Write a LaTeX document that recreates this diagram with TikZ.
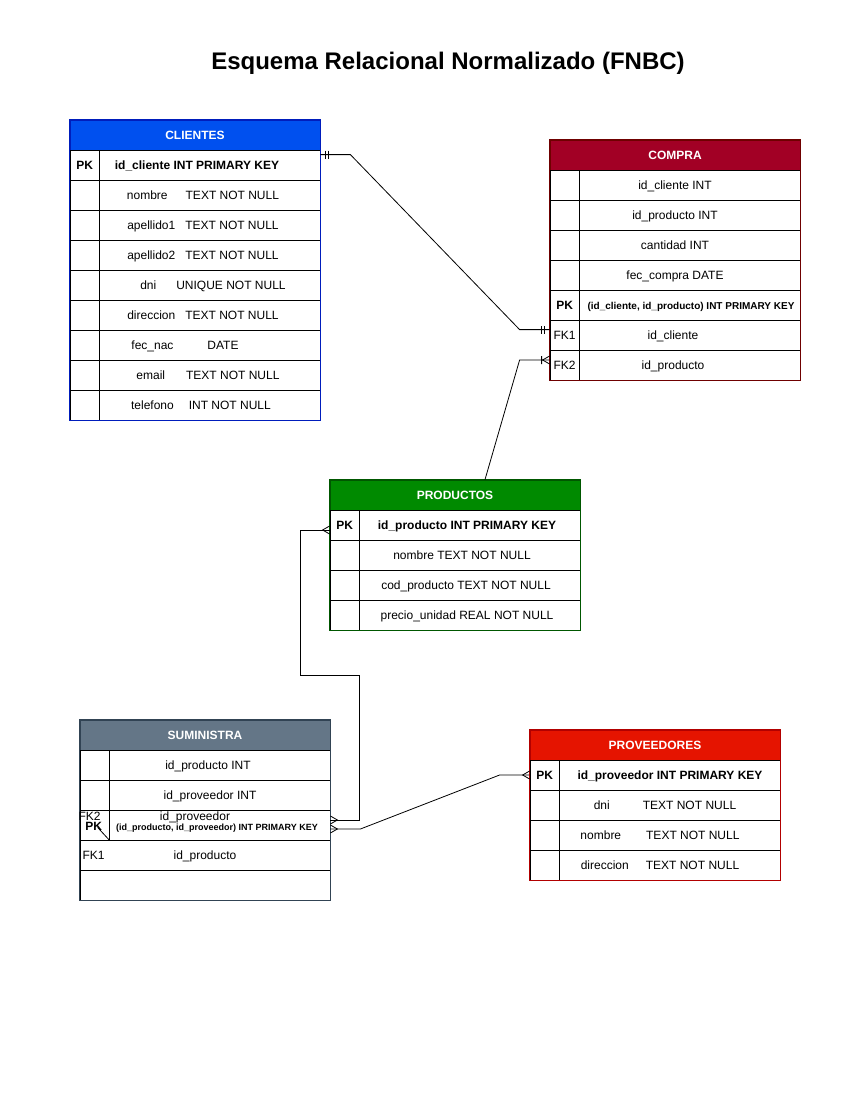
\documentclass[tikz,border=0pt]{standalone}
\usepackage{fontspec}
\setmainfont{Liberation Sans}

\definecolor{clihead}{HTML}{0050EF}
\definecolor{cliline}{HTML}{001DBC}
\definecolor{cmphead}{HTML}{A20025}
\definecolor{cmpline}{HTML}{6F0000}
\definecolor{prdhead}{HTML}{008A00}
\definecolor{prdline}{HTML}{005700}
\definecolor{sumhead}{HTML}{647687}
\definecolor{sumline}{HTML}{314354}
\definecolor{prvhead}{HTML}{E51400}
\definecolor{prvline}{HTML}{B20000}

\newcommand{\smallpk}{\fontsize{9}{11}\selectfont\bfseries}
\newcommand{\midpk}{\fontsize{10}{12}\selectfont\bfseries}

\tikzset{
  tabhead/.style={draw, minimum width=250pt, minimum height=30pt, inner sep=0pt,
    font=\fontsize{12}{14}\selectfont\bfseries, text=white, text height=8.6pt, text depth=0pt},
  field/.style={draw=black, minimum width=250pt, minimum height=30pt, inner sep=0pt},
  keytxt/.style={font=\fontsize{12}{14}\selectfont, inner sep=0pt, text height=8.6pt, text depth=0pt},
  valtxt/.style={font=\fontsize{12}{14}\selectfont, inner sep=0pt, text height=8.6pt, text depth=0pt},
  one/.pic={\draw (5,-4) -- (5,4) (8,-4) -- (8,4);},
  many/.pic={\draw (0,-4) -- (7,0) -- (0,4);},
  onemany/.pic={\draw (0,-4) -- (7,0) -- (0,4) (8,-4) -- (8,4);},
}

\begin{document}
\begin{tikzpicture}[x=1pt, y=-1pt, line width=0.8pt]
    \fill[white] (0,0) rectangle (850,1100);
    \useasboundingbox (0,0) rectangle (850,1100);

    % Title
    \node[font=\fontsize{24}{28}\selectfont\bfseries, inner sep=0pt, text height=17pt, text depth=0pt]
        (title) at (448,61) {Esquema Relacional Normalizado (FNBC)};

    % CLIENTES
    \node[tabhead, fill=clihead, draw=cliline] (cli) at (195,135) {CLIENTES};
    \foreach \i/\k/\txt/\dx in {
        1/{\bfseries PK}/{\bfseries id\_cliente INT PRIMARY KEY}/2,
        2//{nombre\hspace{18pt}TEXT NOT NULL}/8,
        3//{apellido1\hspace{10pt}TEXT NOT NULL}/8,
        4//{apellido2\hspace{10pt}TEXT NOT NULL}/8,
        5//{dni\hspace{20pt}UNIQUE NOT NULL}/18,
        6//{direccion\hspace{10pt}TEXT NOT NULL}/8,
        7//{fec\_nac\hspace{34pt}DATE}/-10,
        8//{email\hspace{21pt}TEXT NOT NULL}/13,
        9//{telefono\hspace{15pt}INT NOT NULL}/6}{
        \node[field] (cli-\i) at (195,{135+30*\i}) {};
        \node[keytxt] (cli-k\i) at ([xshift=15pt]cli-\i.west) {\k};
        \node[valtxt] (cli-v\i) at ([xshift=\dx pt]cli-\i.center) {\txt};
    }
    \draw ([xshift=30pt]cli.south west) -- ([xshift=30pt]cli-9.south west);
    \draw[cliline] (cli.north west) rectangle (cli-9.south east);

    % COMPRA
    \node[tabhead, fill=cmphead, draw=cmpline] (cmp) at (675,155) {COMPRA};
    \foreach \i/\k/\txt/\dx in {
        1//{id\_cliente INT}/0,
        2//{id\_producto INT}/0,
        3//{cantidad INT}/0,
        4//{fec\_compra DATE}/0,
        5/{\bfseries PK}/{\midpk (id\_cliente, id\_producto) INT PRIMARY KEY}/16,
        6/FK1/{id\_cliente}/-2,
        7/FK2/{id\_producto}/-2}{
        \node[field] (cmp-\i) at (675,{155+30*\i}) {};
        \node[keytxt] (cmp-k\i) at ([xshift=15pt]cmp-\i.west) {\k};
        \node[valtxt] (cmp-v\i) at ([xshift=\dx pt]cmp-\i.center) {\txt};
    }
    \draw ([xshift=30pt]cmp.south west) -- ([xshift=30pt]cmp-7.south west);
    \draw[cmpline] (cmp.north west) rectangle (cmp-7.south east);

    % PRODUCTOS
    \node[tabhead, fill=prdhead, draw=prdline] (prd) at (455,495) {PRODUCTOS};
    \foreach \i/\k/\txt/\dx in {
        1/{\bfseries PK}/{\bfseries id\_producto INT PRIMARY KEY}/12,
        2//{nombre TEXT NOT NULL}/7,
        3//{cod\_producto TEXT NOT NULL}/11,
        4//{precio\_unidad REAL NOT NULL}/12}{
        \node[field] (prd-\i) at (455,{495+30*\i}) {};
        \node[keytxt] (prd-k\i) at ([xshift=15pt]prd-\i.west) {\k};
        \node[valtxt] (prd-v\i) at ([xshift=\dx pt]prd-\i.center) {\txt};
    }
    \draw ([xshift=30pt]prd.south west) -- ([xshift=30pt]prd-4.south west);
    \draw[prdline] (prd.north west) rectangle (prd-4.south east);

    % PROVEEDORES
    \node[tabhead, fill=prvhead, draw=prvline] (prv) at (655,745) {PROVEEDORES};
    \foreach \i/\k/\txt/\dx in {
        1/{\bfseries PK}/{\bfseries id\_proveedor INT PRIMARY KEY}/15,
        2//{dni\hspace{33pt}TEXT NOT NULL}/10,
        3//{nombre\hspace{25pt}TEXT NOT NULL}/5,
        4//{direccion\hspace{17pt}TEXT NOT NULL}/5}{
        \node[field] (prv-\i) at (655,{745+30*\i}) {};
        \node[keytxt] (prv-k\i) at ([xshift=15pt]prv-\i.west) {\k};
        \node[valtxt] (prv-v\i) at ([xshift=\dx pt]prv-\i.center) {\txt};
    }
    \draw ([xshift=30pt]prv.south west) -- ([xshift=30pt]prv-4.south west);
    \draw[prvline] (prv.north west) rectangle (prv-4.south east);

    % SUMINISTRA
    \node[tabhead, fill=sumhead, draw=sumline] (sum) at (205,735) {SUMINISTRA};
    \foreach \i/\txt/\dx in {
        1/{id\_producto INT}/3,
        2/{id\_proveedor INT}/5,
        3//0,
        4/{id\_producto}/0,
        5//0}{
        \node[field] (sum-\i) at (205,{735+30*\i}) {};
        \node[valtxt] (sum-v\i) at ([xshift=\dx pt]sum-\i.center) {\txt};
    }
    \draw ([xshift=30pt]sum.south west) -- ([xshift=30pt]sum-3.south west);
    \draw ([xshift=18pt,yshift=13pt]sum-3.south west) -- ([xshift=30pt]sum-3.south west);
    \draw[sumline] (sum.north west) rectangle (sum-5.south east);
    \node[keytxt] (sum-fk1) at ([xshift=14pt]sum-4.west) {FK1};
    \node[keytxt] (sum-fk2) at ([xshift=10pt,yshift=9pt]sum-3.west) {FK2};
    \node[keytxt, font=\fontsize{12}{14}\selectfont\bfseries] (sum-pk) at ([xshift=14pt,yshift=-1pt]sum-3.west) {PK};
    \node[valtxt] (sum-idprv) at ([xshift=-10pt,yshift=9pt]sum-3.center) {id\_proveedor};
    \node[valtxt] (sum-pktxt) at ([xshift=12pt,yshift=-1pt]sum-3.center) {\smallpk (id\_producto, id\_proveedor) INT PRIMARY KEY};

    % CLIENTES -- COMPRA
    \draw ([yshift=-5pt]cli-1.north east) coordinate (c1a) -- ++(30,0)
        -- ([xshift=-30pt,yshift=-10pt]cmp-6.north west)
        -- ([yshift=-10pt]cmp-6.north west) coordinate (c1b);
    \pic at (c1a) {one};
    \pic[rotate=180] at (c1b) {one};

    % PRODUCTOS -- COMPRA
    \draw ([xshift=30pt]prd.north) coordinate (c2a)
        -- ([xshift=-30pt,yshift=5pt]cmp-7.west)
        -- ([yshift=5pt]cmp-7.west) coordinate (c2b);
    \pic[rotate=180] at (c2b) {onemany};

    % SUMINISTRA -- PRODUCTOS
    \draw ([yshift=5pt]sum-3.east) coordinate (c3a) -- ++(29,0) -- ++(0,-145) -- ++(-59,0)
        |- ([yshift=-5pt]prd-1.west) coordinate (c3b);
    \pic at (c3a) {many};
    \pic[rotate=180] at (c3b) {many};

    % SUMINISTRA -- PROVEEDORES
    \draw ([yshift=-4pt]sum-3.east) coordinate (c4a) -- ++(30,0)
        -- ([xshift=-30pt]prv-1.west)
        -- (prv-1.west) coordinate (c4b);
    \pic at (c4a) {many};
    \pic[rotate=180] at (c4b) {many};
\end{tikzpicture}
\end{document}
